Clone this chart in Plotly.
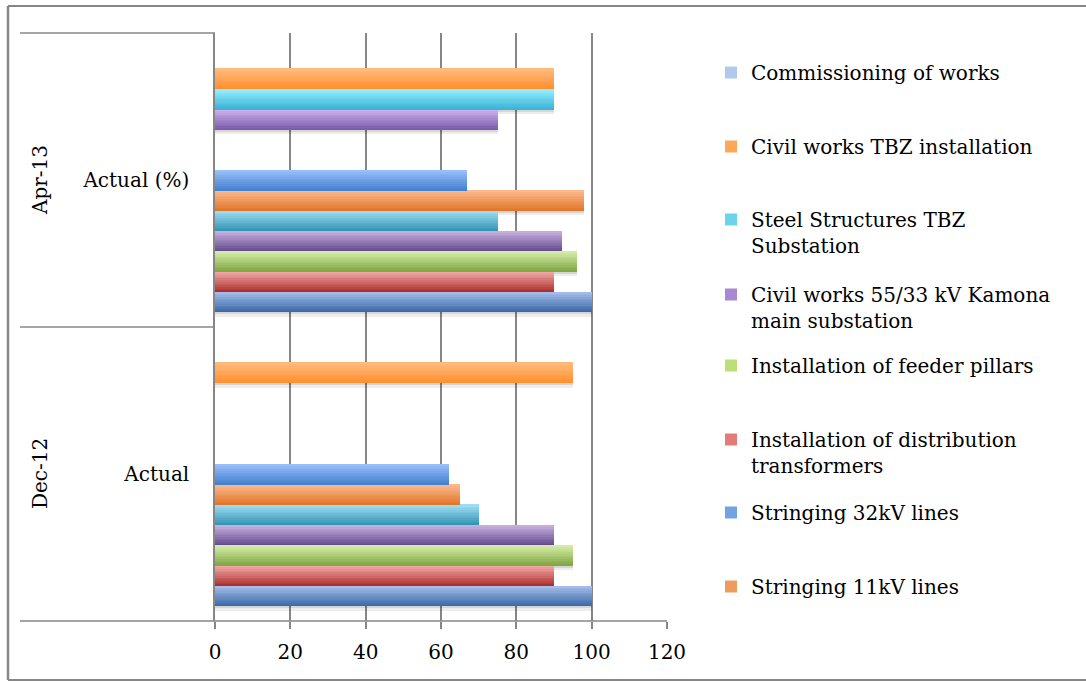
import plotly.graph_objects as go

# ---- data -------------------------------------------------------------
categories = ["Actual", "Actual (%)"]
periods = ["Dec-12", "Apr-13"]

series_names = [
    "Work item 1",
    "Work item 2",
    "Work item 3",
    "Work item 4",
    "Work item 5",
    "Stringing 11kV lines",
    "Stringing 32kV lines",
    "Installation of distribution<br>transformers",
    "Installation of feeder pillars",
    "Civil works 55/33 kV Kamona<br>main substation",
    "Steel Structures TBZ<br>Substation",
    "Civil works TBZ installation",
    "Commissioning of works",
]
dec_values = [100, 90, 95, 90, 70, 65, 62, None, None, None, None, 95, None]
apr_values = [100, 90, 96, 92, 75, 98, 67, None, None, 75, 90, 90, None]

# series shown in the legend (top to bottom) and their first-line centre (px)
legend_series = [12, 11, 10, 9, 8, 7, 6, 5]
legend_rows_px = [73, 147, 220, 295, 366, 440, 513, 587]

# light (top) and dark (bottom) ends of each bar's vertical gradient
top_colors = ["#A3BCE9", "#F0A8A6", "#D3EBA6", "#C4AEDD", "#9CDCF2", "#FCB98C",
              "#98BEF9", "#F5A3A3", "#D8F5A0", "#CBB0EC", "#92EEFF", "#FFBA7A",
              "#C6D9F6"]
bottom_colors = ["#3B6AA8", "#AE302E", "#82A844", "#664C8E", "#3596B4", "#E0772B",
                 "#4381D0", "#CF4A48", "#9BC445", "#7E5CAE", "#3DB4D6", "#FF9030",
                 "#9CB5E0"]

# ---- geometry ---------------------------------------------------------
W, H = 1086, 681
PL, PR, PT, PB = 215, 667, 33, 621          # plot-area edges in px
FONT = "DejaVu Serif"
GRAY = "#868686"


def px_x(x):
    return (x - PL) / (PR - PL)


def px_y(y):
    return (PB - y) / (PB - PT)


def hex_rgb(h):
    h = h.lstrip("#")
    return tuple(int(h[i:i + 2], 16) for i in (0, 2, 4))


def mix(c1, c2, t):
    a, b = hex_rgb(c1), hex_rgb(c2)
    return "rgb(%d,%d,%d)" % tuple(round(a[i] + (b[i] - a[i]) * t) for i in range(3))


n_series = len(series_names)
slot = 1.0 / (n_series + 1.5)          # bar thickness in category units (150% gap)
cat_px = (PB - PT) / len(categories)   # px per category
N_STRIPS = 12

fig = go.Figure()

# soft drop shadows under every bar
for i in range(n_series):
    off = -0.5 + 0.75 * slot + i * slot
    vals = [dec_values[i], apr_values[i]]
    for k, alpha in enumerate([0.16, 0.07]):
        fig.add_trace(go.Bar(
            y=categories, x=vals, orientation="h",
            offset=off - (k + 1) * 2.5 / cat_px, width=2.5 / cat_px,
            marker=dict(color="rgba(0,0,0,%.2f)" % alpha, line=dict(width=0)),
            showlegend=False, hoverinfo="skip",
        ))

# bars drawn as stacked horizontal strips forming a vertical gradient
legend_slot = {s: n for n, s in enumerate(legend_series)}
for i in range(n_series):
    off = -0.5 + 0.75 * slot + i * slot
    vals = [dec_values[i], apr_values[i]]
    for k in range(N_STRIPS):
        t = k / (N_STRIPS - 1)          # 0 = bottom edge, 1 = top edge
        color = mix(bottom_colors[i], top_colors[i], t)
        show = (i in legend_slot) and k == N_STRIPS // 2
        kw = {}
        if i in legend_slot:
            n = legend_slot[i]
            kw["legend"] = "legend" if n == 0 else "legend%d" % (n + 1)
        fig.add_trace(go.Bar(
            y=categories, x=vals, orientation="h",
            offset=off + k * slot / N_STRIPS, width=slot / N_STRIPS,
            marker=dict(color=color, line=dict(width=0)),
            name=series_names[i], legendgroup="s%d" % i,
            showlegend=show, hoverinfo="x+name", **kw,
        ))

# ---- layout -----------------------------------------------------------
layout = dict(
    width=W, height=H,
    margin=dict(l=PL, r=W - PR, t=PT, b=H - PB, autoexpand=False),
    paper_bgcolor="white", plot_bgcolor="white",
    barmode="overlay", bargap=0, bargroupgap=0,
    font=dict(family=FONT, size=20, color="black"),
    xaxis=dict(
        range=[0, 120], dtick=20, tick0=0,
        showgrid=True, gridcolor=GRAY, gridwidth=1.5,
        zeroline=False, showline=False,
        ticks="outside", ticklen=7, tickcolor=GRAY, tickwidth=1.5,
        tickfont=dict(family=FONT, size=20, color="black"),
        ticklabelstandoff=6,
    ),
    yaxis=dict(
        type="category", categoryorder="array", categoryarray=categories,
        range=[-0.5, 1.5],
        showgrid=False, zeroline=False,
        showline=True, linecolor=GRAY, linewidth=1.5,
        ticks="", tickfont=dict(family=FONT, size=20, color="black"),
        ticklabelstandoff=20,
    ),
    showlegend=True,
)

for n, s in enumerate(legend_series):
    key = "legend" if n == 0 else "legend%d" % (n + 1)
    layout[key] = dict(
        x=px_x(711), xanchor="left",
        y=px_y(legend_rows_px[n] - 20), yanchor="top",
        bgcolor="rgba(0,0,0,0)", borderwidth=0,
        font=dict(family=FONT, size=20, color="black"),
        valign="top", tracegroupgap=0,
    )

fig.update_layout(**layout)

# category-axis frame lines and outer chart border
shapes = [
    dict(type="line", xref="paper", yref="paper", x0=px_x(20), x1=1, y0=0, y1=0,
         line=dict(color=GRAY, width=1.5)),
    dict(type="line", xref="paper", yref="paper", x0=px_x(20), x1=0, y0=1, y1=1,
         line=dict(color=GRAY, width=1.5)),
    dict(type="line", xref="paper", yref="y", x0=px_x(20), x1=0, y0=0.5, y1=0.5,
         line=dict(color=GRAY, width=1.5)),
    dict(type="line", xref="paper", yref="paper", x0=px_x(8), x1=px_x(8),
         y0=px_y(6), y1=px_y(680), line=dict(color=GRAY, width=2.5)),
    dict(type="line", xref="paper", yref="paper", x0=px_x(8), x1=px_x(W + 5),
         y0=px_y(6), y1=px_y(6), line=dict(color=GRAY, width=2)),
    dict(type="line", xref="paper", yref="paper", x0=px_x(8), x1=px_x(W + 5),
         y0=px_y(680), y1=px_y(680), line=dict(color=GRAY, width=2)),
]
fig.update_layout(shapes=shapes)

# outer level of the category axis (period labels, rotated)
for cat, period in zip(categories, periods):
    fig.add_annotation(
        x=px_x(40), xref="paper", y=cat, yref="y",
        text=period, textangle=-90, showarrow=False,
        font=dict(family=FONT, size=20, color="black"),
        xanchor="center", yanchor="middle",
    )

fig.write_html("out.html")
